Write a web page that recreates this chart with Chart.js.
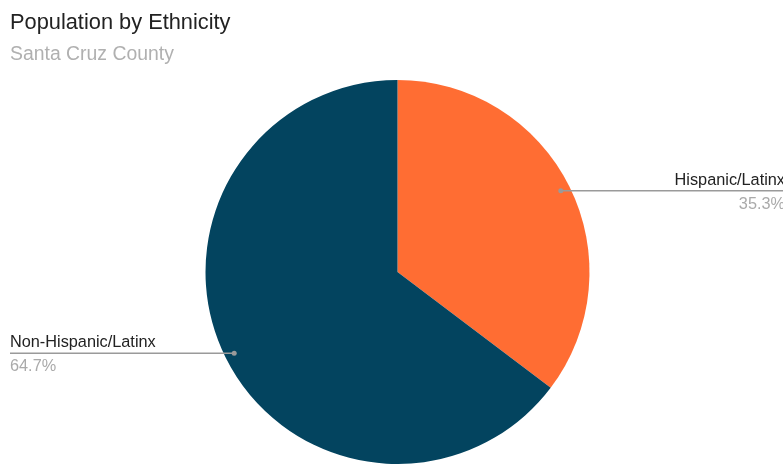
<!DOCTYPE html>
<html>
<head>
<meta charset="utf-8">
<script src="https://cdn.jsdelivr.net/npm/chart.js@4/dist/chart.umd.min.js"></script>
<style>
  html, body { margin: 0; padding: 0; background: #fff; }
  #wrap { width: 783px; height: 464px; position: relative; }
</style>
</head>
<body>
<div id="wrap"><canvas id="c" width="783" height="464"></canvas></div>
<script>
const categories = ['Hispanic/Latinx', 'Non-Hispanic/Latinx'];
const shares = [35.3, 64.7];
const sliceColors = ['#ff6d33', '#03445f'];
const titleText = 'Population by Ethnicity';
const subtitleText = 'Santa Cruz County';

const FONT = '"Liberation Sans", Arial, sans-serif';

// Title, subtitle and the leader-line labels for each slice
const annotate = {
  id: 'annotate',
  afterDraw(chart) {
    const ctx = chart.ctx;
    ctx.save();
    ctx.textBaseline = 'alphabetic';
    ctx.textAlign = 'left';
    ctx.fillStyle = '#222';
    ctx.font = '21.8px ' + FONT;
    ctx.fillText(titleText, 10, 29);
    ctx.fillStyle = '#b0b0b0';
    ctx.font = '19.4px ' + FONT;
    ctx.fillText(subtitleText, 10, 60);

    const meta = chart.getDatasetMeta(0);
    meta.data.forEach((arc, i) => {
      const p = arc.getProps(['x', 'y', 'startAngle', 'endAngle', 'outerRadius'], true);
      const mid = (p.startAngle + p.endAngle) / 2;
      const r = p.outerRadius * 0.95;
      const px = p.x + Math.cos(mid) * r;
      const py = p.y + Math.sin(mid) * r;
      const right = Math.cos(mid) > 0;
      const endX = right ? chart.width + 2 : 10;

      ctx.strokeStyle = '#9a9a9a';
      ctx.lineWidth = 1.5;
      ctx.beginPath();
      ctx.moveTo(px, py);
      ctx.lineTo(endX, py);
      ctx.stroke();
      ctx.fillStyle = '#9a9a9a';
      ctx.beginPath();
      ctx.arc(px, py, 2.5, 0, Math.PI * 2);
      ctx.fill();

      ctx.textAlign = right ? 'right' : 'left';
      ctx.font = '16.3px ' + FONT;
      ctx.fillStyle = '#222';
      ctx.fillText(categories[i], endX, py - 6);
      ctx.fillStyle = '#aaaaaa';
      ctx.fillText(shares[i].toFixed(1) + '%', endX, py + 18);
    });
    ctx.restore();
  }
};

new Chart(document.getElementById('c'), {
  type: 'pie',
  data: {
    labels: categories,
    datasets: [{
      data: shares,
      backgroundColor: sliceColors,
      borderWidth: 0
    }]
  },
  options: {
    responsive: false,
    animation: false,
    events: [],
    layout: { padding: { top: 80, bottom: 0, left: 205, right: 193 } },
    plugins: {
      legend: { display: false },
      tooltip: { enabled: false },
      title: { display: false }
    }
  },
  plugins: [annotate]
});
</script>
</body>
</html>
